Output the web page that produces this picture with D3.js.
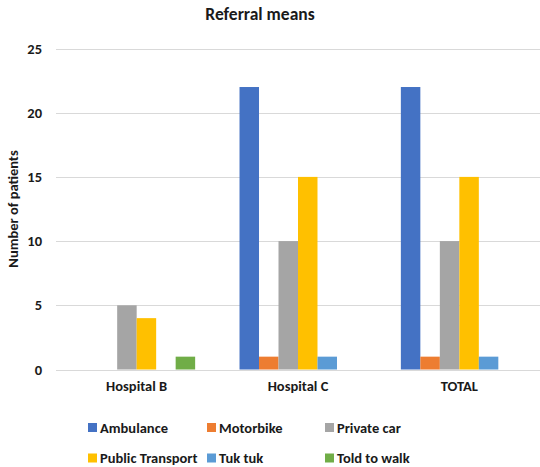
<!DOCTYPE html>
<html>
<head>
<meta charset="utf-8">
<script src="https://cdn.jsdelivr.net/npm/d3@7"></script>
<style>
  html, body { margin: 0; padding: 0; background: #fff; }
  svg { display: block; font-family: Carlito, Lato, "Liberation Sans", sans-serif; }
</style>
</head>
<body>
<svg id="chart" width="540" height="467"></svg>
<script>
// Referral means by site
const categories = ["Hospital B", "Hospital C", "TOTAL"];
const seriesNames = ["Ambulance", "Motorbike", "Private car", "Public Transport", "Tuk tuk", "Told to walk"];
const seriesColors = ["#4472C4", "#ED7D31", "#A5A5A5", "#FFC000", "#5B9BD5", "#70AD47"];
// values per series, one entry per category
const ambulance       = [0, 22, 22];
const motorbike       = [0, 1, 1];
const privateCar      = [5, 10, 10];
const publicTransport = [4, 15, 15];
const tukTuk          = [0, 1, 1];
const toldToWalk      = [1, 0, 0];
const yTicks = [0, 5, 10, 15, 20, 25];

const seriesValues = [ambulance, motorbike, privateCar, publicTransport, tukTuk, toldToWalk];
const FONT = "Carlito, Lato, 'Liberation Sans', sans-serif";

const svg = d3.select("#chart");
const plot = { left: 56, right: 540, top: 48.5, bottom: 369.5 };

const x0 = d3.scaleBand().domain(categories).range([plot.left, plot.right])
  .paddingInner(0.275).paddingOuter(0.1375);
const x1 = d3.scaleBand().domain(seriesNames).range([0, x0.bandwidth()]).padding(0);
const y = d3.scaleLinear().domain([0, 25]).range([plot.bottom, plot.top]);

// gridlines
svg.append("g").selectAll("line").data(yTicks).join("line")
  .attr("x1", plot.left).attr("x2", plot.right)
  .attr("y1", d => Math.round(y(d)) + 0.5).attr("y2", d => Math.round(y(d)) + 0.5)
  .attr("stroke", "#d9d9d9").attr("stroke-width", 1);

// y axis labels
const yAxis = d3.axisLeft(y).tickValues(yTicks).tickSize(0).tickPadding(0);
const yg = svg.append("g").attr("transform", "translate(42,0)").call(yAxis);
yg.select(".domain").remove();
yg.selectAll("text").attr("font-size", 14.5).attr("font-weight", "bold")
  .attr("fill", "#1a1a1a").attr("font-family", FONT);

// bars
const groups = svg.append("g").selectAll("g").data(categories).join("g")
  .attr("transform", c => `translate(${x0(c)},0)`);
groups.selectAll("rect")
  .data((c, ci) => seriesNames.map((s, si) => ({ s, v: seriesValues[si][ci], color: seriesColors[si] })))
  .join("rect")
  .attr("x", d => x1(d.s))
  .attr("width", x1.bandwidth())
  .attr("y", d => y(d.v))
  .attr("height", d => y(0) - y(d.v))
  .attr("fill", d => d.color);

// category axis labels
const xAxis = d3.axisBottom(x0).tickSize(0).tickPadding(0);
const xg = svg.append("g").attr("transform", `translate(0,${plot.bottom + 16})`).call(xAxis);
xg.select(".domain").remove();
xg.selectAll("text").attr("font-size", 14.5).attr("font-weight", "bold")
  .attr("fill", "#1a1a1a").attr("dy", "0.35em")
  .attr("font-family", FONT);

// title
svg.append("text").attr("x", 260).attr("y", 20).attr("text-anchor", "middle")
  .attr("font-size", 17.5).attr("font-weight", "bold").attr("fill", "#1a1a1a")
  .text("Referral means");

// y axis title
svg.append("text").attr("transform", `translate(17.5,${(plot.top + plot.bottom) / 2}) rotate(-90)`)
  .attr("text-anchor", "middle").attr("font-size", 14.5).attr("font-weight", "bold")
  .attr("fill", "#1a1a1a").text("Number of patients");

// legend: 3 columns x 2 rows
const legendCols = [88, 207, 325];
const legendRows = [427.5, 458];
const lg = svg.append("g").selectAll("g").data(seriesNames).join("g")
  .attr("transform", (d, i) => `translate(${legendCols[i % 3]},${legendRows[Math.floor(i / 3)]})`);
lg.append("rect").attr("x", 0).attr("y", -4.5).attr("width", 9).attr("height", 9)
  .attr("fill", (d, i) => seriesColors[i]);
lg.append("text").attr("x", 12).attr("y", 0).attr("dy", "0.35em")
  .attr("font-size", 14.5).attr("font-weight", "bold").attr("fill", "#1a1a1a")
  .text(d => d);
</script>
</body>
</html>
